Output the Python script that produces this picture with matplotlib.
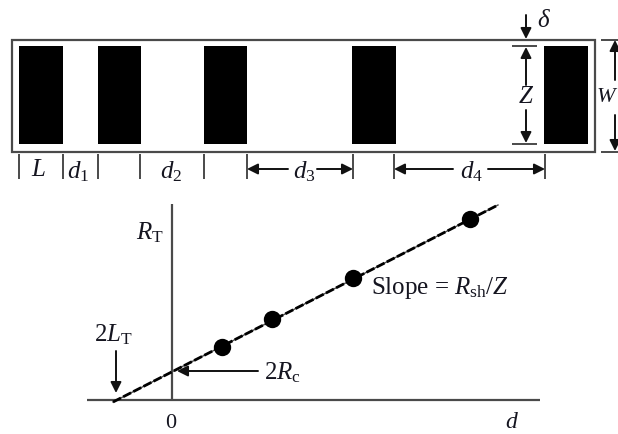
''' Transfer length method sketch: contact pads on top, total resistance
against spacing below. Everything is placed in image pixels.
'''
import matplotlib.pyplot as plt
from matplotlib.patches import Rectangle

plt.rcParams.update({'font.family': 'Liberation Serif'})
plt.rcParams.update({'mathtext.fontset': 'custom'})
plt.rcParams.update({'mathtext.rm': 'Liberation Serif'})
plt.rcParams.update({'mathtext.it': 'Liberation Serif:italic'})
plt.rcParams.update({'font.size': 18})

# pad edges, px
pad_left = [19, 98, 204, 352, 544]
pad_right = [63, 141, 247, 396, 588]
pad_top = 46
pad_bottom = 144

# ticks below the strip
tick_x = [19, 63, 98, 140, 204, 247, 353, 394, 545]

# measured points and fit line, px
point_x = [222, 272, 353, 470]
point_y = [347, 319, 278, 219]
fit_x = [113, 498]
fit_y = [402, 205]

fig = plt.figure(figsize=(6.18, 4.34), dpi=100)
ax = fig.add_axes([0, 0, 1, 1])
ax.set_xlim(0, 618)
ax.set_ylim(434, 0)
ax.axis('off')

grey = '#4a4a4a'
ink = '#151520'


def arrow(x0, y0, x1, y1):
    ax.annotate('', xy=(x1, y1), xytext=(x0, y0),
                arrowprops=dict(arrowstyle='-|>', color='#111111', lw=1.4,
                                mutation_scale=16, shrinkA=0, shrinkB=0))


def label(x, y, s, size=18):
    ax.text(x, y, s, ha='center', va='center', color=ink, fontsize=size)


# strip and pads
ax.add_patch(Rectangle((12, 39.5), 583, 112.5, fc='none', ec=grey, lw=1.6))
for left, right in zip(pad_left, pad_right):
    ax.add_patch(Rectangle((left, pad_top), right - left, pad_bottom - pad_top,
                           fc='black', ec='none'))

ax.vlines(tick_x, 154, 179, color=grey, lw=1.4)
label(39, 170, '$L$')
label(78, 172, '$d_1$')
label(171, 172, '$d_2$')
label(304, 172, '$d_3$')
label(472, 172, '$d_4$')
arrow(288, 169, 247, 169)
arrow(317, 169, 353, 169)
arrow(453, 169, 394, 169)
arrow(488, 169, 545, 169)

# delta, Z and W dimensions
ax.hlines([46, 144], 512, 537, color=grey, lw=1.4)
ax.hlines([39.5, 151.5], 601, 618, color=grey, lw=1.4)
arrow(526, 15, 526, 39)
label(544, 21, r'$\delta$')
arrow(526, 85, 526, 47)
arrow(526, 110, 526, 143)
label(526, 97, '$Z$')
arrow(615, 80, 615, 40)
arrow(615, 115, 615, 151)
label(607, 97, '$W$', size=16)

# resistance plot
ax.hlines(400, 87, 540, color=grey, lw=1.6)
ax.vlines(172, 204, 400, color=grey, lw=1.6)
ax.plot(fit_x, fit_y, color=grey, lw=1.0)
ax.plot(fit_x, fit_y, color='black', lw=2.0, ls=(0, (3.2, 0.9)))
ax.plot(point_x, point_y, 'o', color='black', ms=12.5, mec='none')

label(150, 233, r'$R_{\mathrm{T}}$')
label(113, 335, r'$2L_{\mathrm{T}}$')
arrow(116, 351, 116, 393)
arrow(258, 371, 177, 371)
label(282, 373, r'$2R_{\mathrm{c}}$')
label(440, 288, r'Slope = $R_{\mathrm{sh}}/Z$')
label(171, 423, '0', size=16)
label(512, 422, '$d$', size=17)

plt.savefig('out.png', dpi=100)
